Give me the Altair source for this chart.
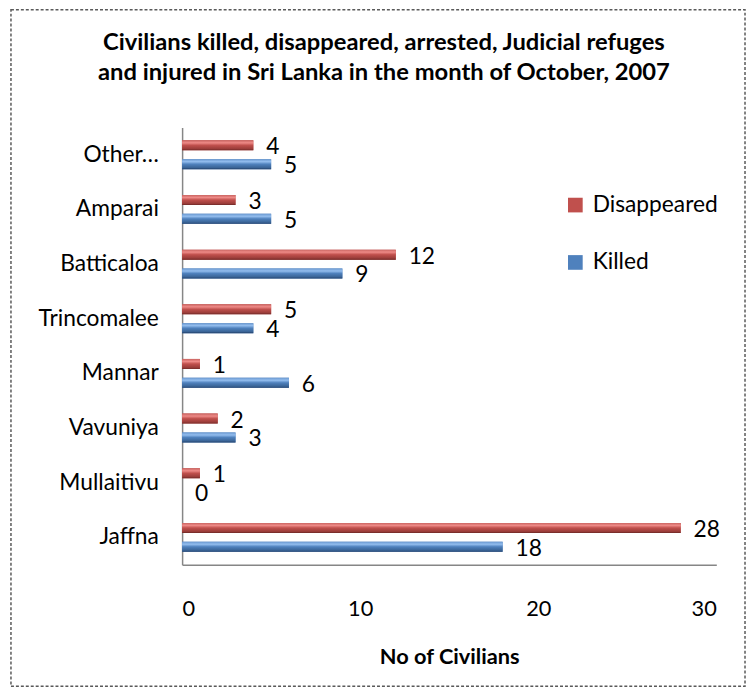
import altair as alt
import pandas as pd

categories = ["Other…", "Amparai", "Batticaloa", "Trincomalee", "Mannar", "Vavuniya", "Mullaitivu", "Jaffna"]
disappeared = [4, 3, 12, 5, 1, 2, 1, 28]
killed = [5, 5, 9, 4, 6, 3, 0, 18]
series = ["Disappeared", "Killed"]
colors = ["#C0504D", "#4F81BD"]
x_ticks = [0, 10, 20, 30]
title_lines = [
    "Civilians killed, disappeared, arrested, Judicial refuges",
    "and injured in Sri Lanka in the month of  October, 2007",
]
x_title = "No of Civilians"

rows = []
for c, d, k in zip(categories, disappeared, killed):
    rows.append({"category": c, "series": series[0], "value": d})
    rows.append({"category": c, "series": series[1], "value": k})
df = pd.DataFrame(rows)

FONT = "Lato"

y_enc = alt.Y(
    "category:N",
    sort=categories,
    scale=alt.Scale(paddingInner=0.31, paddingOuter=0.155),
    axis=alt.Axis(
        title=None, ticks=False, tickSize=0, labelPadding=24, labelFontSize=23,
        labelFont=FONT, labelColor="#000000", domainColor="#868686", domainWidth=1.5,
        labelLimit=300,
    ),
)
yoff_enc = alt.YOffset(
    "series:N", sort=series, scale=alt.Scale(paddingInner=0.47, paddingOuter=0.235)
)
x_enc = alt.X(
    "value:Q",
    scale=alt.Scale(domain=[0, 30], nice=False),
    axis=alt.Axis(
        values=x_ticks, grid=False, ticks=False, tickSize=0, labelPadding=34,
        labelFontSize=22, labelFont=FONT, labelColor="#000000",
        domainColor="#868686", domainWidth=1.5,
        title=x_title, titleFont=FONT, titleFontSize=22, titleFontWeight="bold",
        titleColor="#000000", titlePadding=28,
    ),
)

base = alt.Chart(df)

bars = base.mark_bar().encode(
    y=y_enc,
    yOffset=yoff_enc,
    x=x_enc,
    color=alt.Color(
        "series:N",
        sort=series,
        scale=alt.Scale(domain=series, range=colors),
        legend=alt.Legend(
            title=None, orient="none", legendX=386, legendY=67,
            symbolType="square", symbolSize=220, symbolStrokeWidth=0,
            labelFont=FONT, labelFontSize=23, labelColor="#000000",
            rowPadding=34, labelOffset=6,
        ),
    ),
)

grad_stops = {
    "Disappeared": ["#C96461", "#EE8A87", "#C0504D", "#9B3D3A", "#6E2826"],
    "Killed": ["#6A98D0", "#93BDEE", "#4F81BD", "#3A6496", "#23406A"],
}
offsets = [0, 0.25, 0.5, 0.85, 1]

overlays = []
for s in series:
    g = alt.Gradient(
        gradient="linear", x1=0, y1=0, x2=0, y2=1,
        stops=[alt.GradientStop(offset=o, color=c) for o, c in zip(offsets, grad_stops[s])],
    )
    overlays.append(
        base.transform_filter(alt.datum.series == s)
        .mark_bar(color=g)
        .encode(y=y_enc, yOffset=yoff_enc, x=x_enc)
    )

labels = base.mark_text(
    align="left", baseline="middle", dx=13, dy=2, fontSize=23, font=FONT, color="#000000"
).encode(y=y_enc, yOffset=yoff_enc, x=x_enc, text="value:Q")

border = alt.Chart(alt.Data(values=[{}])).mark_rect(
    fill=None, stroke="#595959", strokeWidth=1.5, strokeDash=[3, 2]
).encode(
    x=alt.value(-173), x2=alt.value(569), y=alt.value(-119), y2=alt.value(565)
)

chart = alt.layer(bars, *overlays, labels, border).properties(
    width=540,
    height=442,
    autosize="none",
    padding={"left": 176, "top": 117, "right": 30, "bottom": 125},
    title=alt.TitleParams(
        text=title_lines, font=FONT, fontSize=24, fontWeight="bold", color="#000000",
        anchor="middle", dx=-66, offset=-77, lineHeight=31,
    ),
).configure_view(stroke=None)

chart.save("out.html", embed_options={"renderer": "svg", "actions": False})
